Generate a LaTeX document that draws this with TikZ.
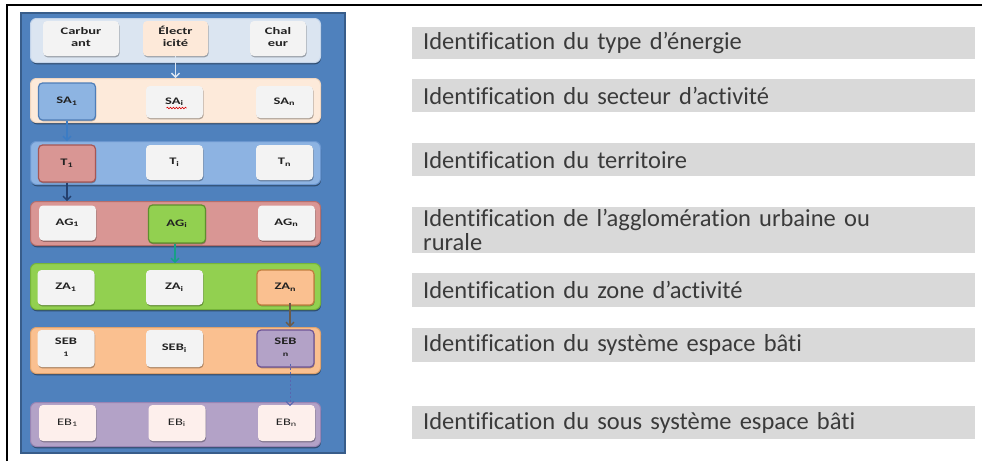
\documentclass[tikz,border=0pt]{standalone}
\usepackage{graphicx}
\usepackage{fontspec}
\setmainfont{Carlito}[Ligatures={NoCommon,NoContextual}]
\usetikzlibrary{arrows.meta,shadows,decorations.pathmorphing}
\definecolor{panelblue}{HTML}{4F81BD}
\definecolor{panelborder}{HTML}{385D8A}
\definecolor{rowA}{HTML}{DBE5F1}\definecolor{rowAb}{HTML}{C3D4EA}
\definecolor{rowB}{HTML}{FDEADA}\definecolor{rowBb}{HTML}{F0D6C0}
\definecolor{rowC}{HTML}{8DB3E2}\definecolor{rowCb}{HTML}{6A96CF}
\definecolor{rowD}{HTML}{D99694}\definecolor{rowDb}{HTML}{B56E6C}
\definecolor{rowE}{HTML}{92D050}\definecolor{rowEb}{HTML}{75B43A}
\definecolor{rowF}{HTML}{FAC090}\definecolor{rowFb}{HTML}{E0A26C}
\definecolor{rowG}{HTML}{B3A2C7}\definecolor{rowGb}{HTML}{9884B4}
\definecolor{cwhite}{HTML}{F3F3F3}
\definecolor{cpeach}{HTML}{FDE9D9}
\definecolor{cpink}{HTML}{FDEFEC}
\definecolor{saone}{HTML}{8DB4E2}\definecolor{saoneb}{HTML}{4F7EB8}
\definecolor{tone}{HTML}{D99694}\definecolor{toneb}{HTML}{A65755}
\definecolor{agi}{HTML}{92D050}\definecolor{agib}{HTML}{5E8F2D}
\definecolor{zan}{HTML}{FAC090}\definecolor{zanb}{HTML}{C27E3F}
\definecolor{sebn}{HTML}{B3A2C7}\definecolor{sebnb}{HTML}{6E5596}
\definecolor{bargray}{HTML}{D9D9D9}
\definecolor{bartxt}{HTML}{3A3A3A}
\definecolor{boxtxt}{HTML}{222222}
\definecolor{arA}{HTML}{DCE6F2}
\definecolor{arB}{HTML}{3C7CC4}
\definecolor{arC}{HTML}{24406E}
\definecolor{arD}{HTML}{17A086}
\definecolor{arE}{HTML}{6B5A4A}
\definecolor{arF}{HTML}{5766B0}
\newcommand{\wt}[1]{\scalebox{1.45}[1]{\begin{tabular}{@{}c@{}}#1\end{tabular}}}
\begin{document}
\begin{tikzpicture}[x=1pt,y=-1pt,
  panel/.style={fill=panelblue, draw=panelborder, line width=1.5pt},
  rowbox/.style={rounded corners=6pt, line width=1pt, minimum width=290pt, minimum height=44pt, anchor=north west, inner sep=0pt,
     drop shadow={shadow xshift=0.5pt, shadow yshift=-1.8pt, opacity=0.4, fill=black}},
  cbox/.style={rounded corners=4pt, fill=cwhite, text=boxtxt, font=\bfseries\fontsize{10}{12}\selectfont, align=center, inner sep=0pt,
     minimum width=57pt, minimum height=35pt,
     drop shadow={shadow xshift=0.6pt, shadow yshift=-1.3pt, opacity=0.3, fill=black}},
  hl/.style={line width=1.2pt},
  bar/.style={fill=bargray, draw=none, anchor=north west, text width=541pt, inner xsep=11pt, inner ysep=0pt,
     minimum height=32pt, align=left, text=bartxt, font=\fontsize{24.5}{24}\selectfont},
  flow/.style={-{Straight Barb[length=4pt,width=8pt]}, line width=1.4pt}
]
\useasboundingbox (0,0) rectangle (982,461);
\fill[white] (0,0) rectangle (982,461);
% frame
\draw[line width=2pt] (7,461) -- (7,5) -- (982,5);
% panel
\node[panel, anchor=north west, minimum width=324pt, minimum height=440pt, inner sep=0pt] (panel) at (20,12) {};
% rows
\node[rowbox, fill=rowA, draw=rowAb] (r1) at (30,18) {};
\node[rowbox, fill=rowB, draw=rowBb] (r2) at (30,78) {};
\node[rowbox, fill=rowC, draw=rowCb, minimum height=43pt] (r3) at (30,141) {};
\node[rowbox, fill=rowD, draw=rowDb] (r4) at (30,201) {};
\node[rowbox, fill=rowE, draw=rowEb, minimum height=46pt] (r5) at (30,263) {};
\node[rowbox, fill=rowF, draw=rowFb, minimum height=46pt] (r6) at (30,327) {};
\node[rowbox, fill=rowG, draw=rowGb] (r7) at (30,402) {};
% row 1
\node[cbox, minimum width=76pt] (carb) at (81,38.5) {\wt{Carbur\\ant}};
\node[cbox, fill=cpeach, minimum width=65pt] (elec) at (175.5,38.5) {\wt{Électr\\icité}};
\node[cbox, minimum width=56pt] (chal) at (278,38.5) {\wt{Chal\\eur}};
% row 2
\node[cbox, fill=saone, draw=saoneb, hl, minimum height=37pt] (sa1) at (67,101.5) {\wt{SA\textsubscript{1}}};
\node[cbox, minimum height=32pt] (sai) at (174.5,102) {\wt{SA\textsubscript{i}}};
\node[cbox, minimum height=32pt] (san) at (284.5,102) {\wt{SA\textsubscript{n}}};
\draw[red!85!black, line width=0.6pt, decorate, decoration={snake, amplitude=0.8pt, segment length=3pt}]
  ([xshift=-8pt,yshift=-6pt]sai.center) -- ([xshift=12pt,yshift=-6pt]sai.center);
% row 3
\node[cbox, fill=tone, draw=toneb, hl, minimum height=37pt] (t1) at (67,163.5) {\wt{T\textsubscript{1}}};
\node[cbox] (ti) at (174.5,162.5) {\wt{T\textsubscript{i}}};
\node[cbox] (tn) at (284.5,162.5) {\wt{T\textsubscript{n}}};
% row 4
\node[cbox] (ag1) at (67.5,223) {\wt{AG\textsubscript{1}}};
\node[cbox, fill=agi, draw=agib, hl, minimum height=38pt] (agi) at (177,224) {\wt{AG\textsubscript{i}}};
\node[cbox] (agn) at (286.5,223) {\wt{AG\textsubscript{n}}};
% row 5
\node[cbox] (za1) at (66,287.5) {\wt{ZA\textsubscript{1}}};
\node[cbox] (zai) at (174.5,287.5) {\wt{ZA\textsubscript{i}}};
\node[cbox, fill=zan, draw=zanb, hl] (zan) at (285.5,287.5) {\wt{ZA\textsubscript{n}}};
% row 6
\node[cbox, minimum height=37pt] (seb1) at (66,348.5) {\wt{SEB\\{\scriptsize 1}}};
\node[cbox, minimum height=37pt] (sebi) at (174.5,348.5) {\wt{SEB\textsubscript{i}}};
\node[cbox, fill=sebn, draw=sebnb, hl, minimum height=37pt] (sebn) at (285.5,348.5) {\wt{SEB\\{\scriptsize n}}};
% row 7
\node[cbox, fill=cpink, font=\fontsize{10}{12}\selectfont, minimum height=36pt] (eb1) at (67.5,423) {\wt{EB\textsubscript{1}}};
\node[cbox, fill=cpink, font=\fontsize{10}{12}\selectfont, minimum height=36pt] (ebi) at (177,423) {\wt{EB\textsubscript{i}}};
\node[cbox, fill=cpink, font=\fontsize{10}{12}\selectfont, minimum height=36pt] (ebn) at (286.5,423) {\wt{EB\textsubscript{n}}};
% arrows
\draw[flow, arA] (elec.south) -- (elec.south |- r2.north);
\draw[flow, arB] (sa1.south) -- (sa1.south |- r3.north);
\draw[flow, arC] (t1.south) -- (t1.south |- r4.north);
\coordinate (a4s) at ([xshift=-2pt]agi.south);
\draw[flow, arD] (a4s) -- (a4s |- r5.north);
\coordinate (a5s) at ([xshift=4.5pt,yshift=3pt]zan.south);
\draw[flow, arE] (a5s) -- (a5s |- r6.north);
\coordinate (a6s) at ([xshift=4.5pt,yshift=4pt]sebn.south);
\draw[flow, arF, line width=1pt, dash pattern=on 2.5pt off 1.5pt] (a6s) -- ([yshift=-4pt]a6s |- r7.north);
% right bars
\node[bar] (b1) at (412,27) {Identification du type d’énergie};
\node[bar, minimum height=33pt] (b2) at (412,79) {Identification du secteur d’activité};
\node[bar, minimum height=33pt] (b3) at (412,143) {Identification du territoire};
\node[bar, minimum height=46pt] (b4) at (412,207) {Identification de l’agglomération urbaine ou\\rurale};
\node[bar, minimum height=34pt] (b5) at (412,273) {Identification du zone d’activité};
\node[bar, minimum height=34pt] (b6) at (412,328) {Identification du système espace bâti};
\node[bar, minimum height=33pt] (b7) at (412,406) {Identification du sous système espace bâti};
\end{tikzpicture}
\end{document}
